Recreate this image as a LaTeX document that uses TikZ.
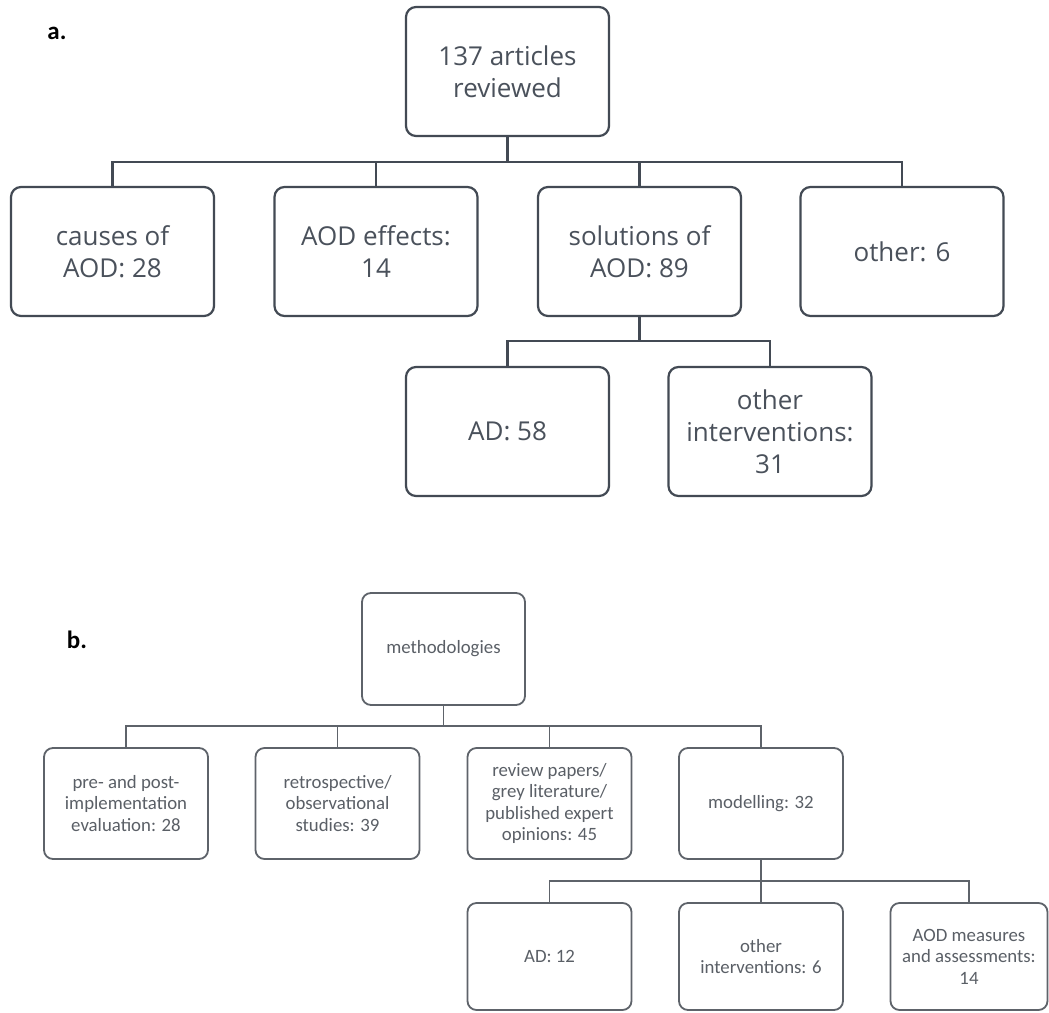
\documentclass[tikz,border=0pt]{standalone}
\usepackage{fontspec}
\newfontfamily\afont{Open Sans}
\newfontfamily\bfont{Carlito}
\definecolor{lineA}{HTML}{434A54}
\definecolor{txtA}{HTML}{4A515B}
\definecolor{lineB}{HTML}{5E636A}
\definecolor{txtB}{HTML}{5A5F66}
\tikzset{
  abox/.style={draw=lineA, line width=2.2pt, rounded corners=10pt,
    minimum width=203pt, minimum height=129pt, inner sep=0pt, align=center,
    text=txtA, font=\afont\fontsize{26}{32}\selectfont},
  bbox/.style={draw=lineB, line width=1.8pt, rounded corners=9pt,
    minimum width=164pt, minimum height=111pt, inner sep=0pt, align=center,
    text=txtB, font=\bfont\fontsize{18.8}{21.5}\selectfont},
  conA/.style={draw=lineA, line width=2.2pt},
  conB/.style={draw=lineB, line width=1.8pt},
  panel/.style={font=\bfont\bfseries\fontsize{25}{30}\selectfont, text=black, inner sep=0pt}
}
\begin{document}
\begin{tikzpicture}[x=1pt, y=-1pt]
\useasboundingbox[fill=white] (0,0) rectangle (1049,1012);

% ---- a. topics of the reviewed articles ----
\node[panel] (la) at (57,33) {a.};
\node[abox] (top) at (507.5,71.5) {137 articles\\reviewed};
\node[abox] (causes) at (112.5,251.5) {causes of\\AOD: 28};
\node[abox] (effects) at (376,251.5) {AOD effects:\\14};
\node[abox] (solutions) at (639.5,251.5) {solutions of\\AOD: 89};
\node[abox] (otherA) at (902,251.5) {other: 6};
\node[abox] (ad58) at (507.5,431.5) {AD: 58};
\node[abox] (ointA) at (770,431.5) {other\\interventions:\\31};

\coordinate (jA) at (507.5,162);
\coordinate (kA) at (639.5,341);
\draw[conA] (top.south) -- (jA);
\draw[conA] (causes.north) |- (otherA.north |- jA) -- (otherA.north);
\draw[conA] (effects.north) -- (effects.north |- jA);
\draw[conA] (solutions.north) -- (solutions.north |- jA);
\draw[conA] (solutions.south) -- (kA);
\draw[conA] (ad58.north) |- (ointA.north |- kA) -- (ointA.north);

% ---- b. methodologies ----
\node[panel] (lb) at (77,640) {b.};
\node[bbox, minimum width=163pt, minimum height=112pt] (meth) at (443.5,649) {methodologies};
\node[bbox] (pre) at (126,803.5) {pre- and post-\\implementation\\evaluation: 28};
\node[bbox] (retro) at (337.5,803.5) {retrospective/\\observational\\studies: 39};
\node[bbox] (review) at (549.5,803.5) {review papers/\\grey literature/\\published expert\\opinions: 45};
\node[bbox] (model) at (761,803.5) {modelling: 32};
\node[bbox, minimum height=107pt] (ad12) at (549.5,956.5) {AD: 12};
\node[bbox, minimum height=107pt] (ointB) at (761,956.5) {other\\interventions: 6};
\node[bbox, minimum height=107pt, minimum width=157pt] (aodm) at (969,956.5) {AOD measures\\and assessments:\\14};

\coordinate (jB) at (443.5,726);
\coordinate (kB) at (761,881);
\draw[conB] (meth.south) -- (jB);
\draw[conB] (pre.north) |- (model.north |- jB) -- (model.north);
\draw[conB] (retro.north) -- (retro.north |- jB);
\draw[conB] (review.north) -- (review.north |- jB);
\draw[conB] (model.south) -- (ointB.north);
\draw[conB] (ad12.north) |- (aodm.north |- kB) -- (aodm.north);
\end{tikzpicture}
\end{document}
